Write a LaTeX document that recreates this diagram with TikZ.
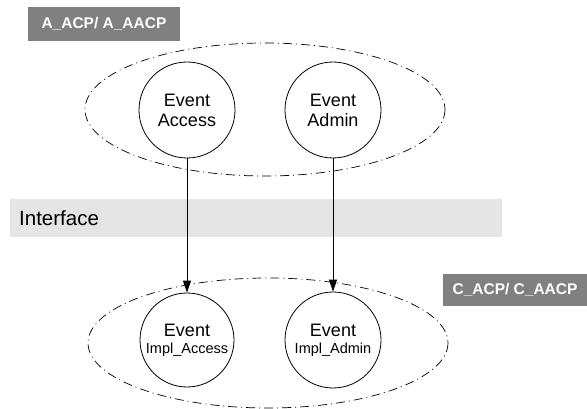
\documentclass[tikz,border=0pt]{standalone}
\usepackage{fontspec}
\setmainfont{Liberation Sans}
\usepackage{xcolor}
\usetikzlibrary{arrows.meta}

\tikzset{
  grpline/.style={draw, line width=0.7pt, dash pattern=on 9pt off 4pt on 1pt off 4pt},
  evtcircle/.style={draw, line width=0.8pt, circle, minimum size=96pt, inner sep=0pt, align=center,
    font=\fontsize{18}{20}\selectfont},
  tagbox/.style={fill=gray, text=white, inner sep=0pt, font=\bfseries\fontsize{15.5}{18}\selectfont},
  flowarrow/.style={line width=0.8pt, -{Triangle[length=12pt,width=8pt]}}
}

\begin{document}
\begin{tikzpicture}[x=1pt,y=1pt,yscale=-1,xscale=1]
\useasboundingbox (0,0) rectangle (587,409);

%Shape: Rectangle (interface band)
\fill[gray!20] (10,199) rectangle (502,237);
% Text Node
\node (iface) [anchor=west, inner sep=0pt, font=\fontsize{20.5}{22}\selectfont] at (19,218) {Interface};

%Shape: Ellipse (upper group)
\draw[grpline] (265,109.5) ellipse [x radius=180, y radius=66.5];
%Shape: Ellipse (lower group)
\draw[grpline] (268,343) ellipse [x radius=180, y radius=65];

% Text Node
\node (tagA) [tagbox, minimum width=152pt, minimum height=34pt] at (104,24) {A\_ACP/ A\_AACP};
% Text Node
\node (tagC) [tagbox, minimum width=144pt, minimum height=32pt] at (515,290) {C\_ACP/ C\_AACP};

%Shape: Circle
\node (evAccess) [evtcircle] at (187,110) {Event\\Access};
\node (evAdmin) [evtcircle] at (333,110) {Event\\Admin};
\node (implAccess) [evtcircle, minimum size=94pt] at (187,340) {Event\\[-3pt]{\fontsize{14.5}{15}\selectfont Impl\_Access}};
\node (implAdmin) [evtcircle] at (333,340) {Event\\[-3pt]{\fontsize{14.5}{15}\selectfont Impl\_Admin}};

%Straight Lines
\draw[flowarrow] (evAccess) -- (implAccess);
\draw[flowarrow] (evAdmin) -- (implAdmin);
\end{tikzpicture}
\end{document}
